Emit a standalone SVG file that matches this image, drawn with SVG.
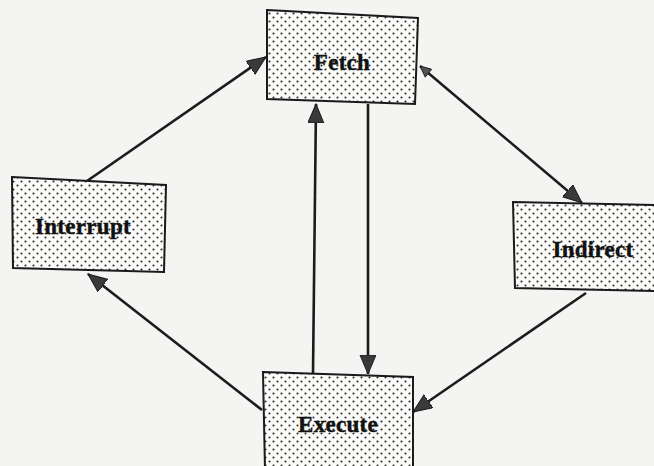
<svg xmlns="http://www.w3.org/2000/svg" width="654" height="466" viewBox="0 0 654 466">
  <style>
    .box { fill: url(#dots); stroke: #1a1a1a; stroke-width: 2; }
    .lbl { font-family: "Liberation Serif", "DejaVu Serif", serif; font-weight: bold; font-size: 23px; letter-spacing: 0.3px; fill: #111; stroke: #111; stroke-width: 0.4; text-anchor: middle; }
    .conn { stroke: #1c1c1c; stroke-width: 2.6; fill: none; }
  </style>
  <defs>
    <pattern id="dots" width="8" height="8" patternUnits="userSpaceOnUse">
      <rect width="8" height="8" fill="#fbfbfa"/>
      <circle cx="1.5" cy="1.5" r="1.05" fill="#2a2a2a"/>
      <circle cx="5.5" cy="5.5" r="1.05" fill="#2a2a2a"/>
    </pattern>
    <marker id="ah" markerUnits="userSpaceOnUse" markerWidth="20" markerHeight="18" refX="19" refY="8" orient="auto">
      <path d="M0,0 L19,8 L0,16 z" fill="#3a3a3a" stroke="#1a1a1a" stroke-width="1"/>
    </marker>
    <marker id="ahs" markerUnits="userSpaceOnUse" markerWidth="12" markerHeight="12" refX="0" refY="5" orient="auto">
      <path d="M11,0 L0,5 L11,10 z" fill="#555" stroke="#222" stroke-width="1"/>
    </marker>
  </defs>
  <rect width="654" height="466" fill="#f4f4f2"/>

  <g id="connectors">
    <line class="conn" x1="87" y1="181" x2="266" y2="57" marker-end="url(#ah)"/>
    <line class="conn" x1="420" y1="66" x2="582" y2="203" marker-start="url(#ahs)" marker-end="url(#ah)"/>
    <line class="conn" x1="586" y1="293" x2="413" y2="412" marker-end="url(#ah)"/>
    <line class="conn" x1="262" y1="410" x2="88" y2="274" marker-end="url(#ah)"/>
    <line class="conn" x1="368" y1="104" x2="368" y2="374" marker-end="url(#ah)"/>
    <line class="conn" x1="313" y1="373" x2="316" y2="104" marker-end="url(#ah)"/>
  </g>

  <g id="fetch">
    <polygon class="box" points="267,10 418,18 415,104 267,99"/>
    <text class="lbl" x="342" y="70">Fetch</text>
  </g>
  <g id="interrupt">
    <polygon class="box" points="12,177 166,185 164,272 13,268"/>
    <text class="lbl" x="83" y="234">Interrupt</text>
  </g>
  <g id="indirect">
    <polygon class="box" points="513,202 656,205 656,291 515,288"/>
    <text class="lbl" x="593" y="257">Indirect</text>
  </g>
  <g id="execute">
    <polygon class="box" points="263,372 413,377 413,470 265,470"/>
    <text class="lbl" x="338" y="432">Execute</text>
  </g>
</svg>
